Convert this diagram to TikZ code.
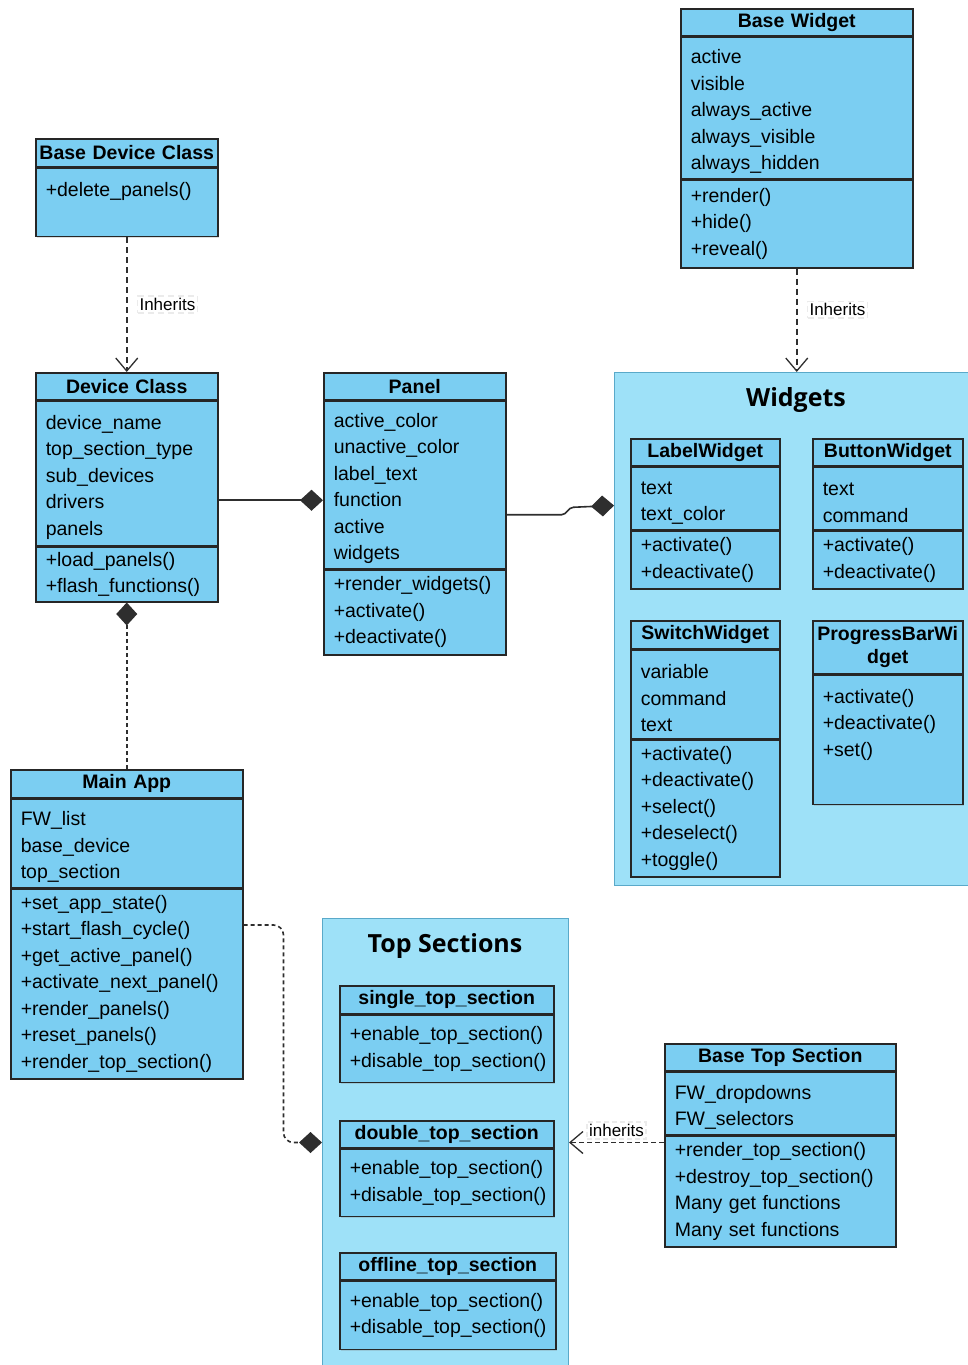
\documentclass[tikz,border=0pt]{standalone}
\usepackage{fontspec}
\setmainfont{Liberation Sans}
\newfontfamily\groupfont{Open Sans}
\usetikzlibrary{arrows.meta, positioning, shadows}

\definecolor{classblue}{HTML}{7BCEF2}
\definecolor{groupblue}{HTML}{9EE1F8}
\definecolor{groupline}{HTML}{5AA9C9}
\definecolor{linegray}{HTML}{2E2E2E}

\begin{document}
\begin{tikzpicture}[x=1pt, y=-1pt, node distance=0pt]
\useasboundingbox (0,0) rectangle (968,1365);

% Define styles
\tikzstyle{classhead} = [rectangle, draw=black!85, line width=1.5pt, fill=classblue, anchor=north west,
    inner sep=0pt, align=center, font=\fontsize{19.5}{23}\selectfont\bfseries,
    drop shadow={shadow xshift=1.5pt, shadow yshift=-1.5pt, opacity=0.25}]
\tikzstyle{classpart} = [rectangle, draw=black!85, line width=1.5pt, fill=classblue, inner xsep=10pt,
    inner ysep=0pt, align=left, font=\fontsize{19.5}{26.5}\selectfont,
    drop shadow={shadow xshift=1.5pt, shadow yshift=-1.5pt, opacity=0.25}]
\tikzstyle{classattr} = [classpart, execute at begin node={\rule{0pt}{22pt}}]
\tikzstyle{group} = [rectangle, draw=groupline, line width=1pt, fill=groupblue, anchor=north west, inner sep=0pt]
\tikzstyle{grouptitle} = [font=\groupfont\bfseries\fontsize{25}{30}\selectfont]
\tikzstyle{inherit} = [draw=linegray, line width=1.6pt, dash pattern=on 6pt off 4pt,
    -{Straight Barb[length=13pt, width=22pt, line width=1.3pt]}]
\tikzstyle{compose} = [draw=linegray, line width=1.6pt, -{Diamond[length=23pt, width=21pt]}]
\tikzstyle{edgelabel} = [fill=white, draw=black!8, inner sep=2pt, font=\fontsize{17}{20}\selectfont]

% Groups
\node [group, minimum width=364pt, minimum height=513pt] (widgets) at (614,372) {};
\node [grouptitle] (widgetstitle) at (796,400) {Widgets};
\node [group, minimum width=246pt, minimum height=448pt] (topsec) at (322,918) {};
\node [grouptitle] (toptitle) at (445,946) {Top Sections};

% Place nodes
\node [classhead, text width=182pt, minimum height=28pt] (basedev) at (35,138) {Base Device Class};
\node [classattr, text width=162pt, minimum height=68pt, below=of basedev] (basedevops) {+delete\_panels()\\ \strut};

\node [classhead, text width=182pt, minimum height=27pt] (dev) at (35,372) {Device Class};
\node [classattr, text width=162pt, minimum height=144pt, below=of dev] (devattr) {device\_name\\top\_section\_type\\sub\_devices\\drivers\\panels};
\node [classpart, text width=162pt, minimum height=55pt, below=of devattr] (devops) {+load\_panels()\\+flash\_functions()};

\node [classhead, text width=182pt, minimum height=27pt] (panel) at (323,372) {Panel};
\node [classattr, text width=162pt, minimum height=167pt, below=of panel] (panelattr) {active\_color\\unactive\_color\\label\_text\\function\\active\\widgets};
\node [classpart, text width=162pt, minimum height=85pt, below=of panelattr] (panelops) {+render\_widgets()\\+activate()\\+deactivate()};

\node [classhead, text width=232pt, minimum height=27pt] (basewid) at (680,8) {Base Widget};
\node [classattr, text width=212pt, minimum height=141pt, below=of basewid] (basewidattr) {active\\visible\\always\_active\\always\_visible\\always\_hidden};
\node [classpart, text width=212pt, minimum height=88pt, below=of basewidattr] (basewidops) {+render()\\+hide()\\+reveal()};

\node [classhead, text width=149pt, minimum height=27pt] (labelwid) at (630,438) {LabelWidget};
\node [classattr, text width=129pt, minimum height=62pt, below=of labelwid] (labelwidattr) {text\\text\_color};
\node [classpart, text width=129pt, minimum height=58pt, below=of labelwidattr] (labelwidops) {+activate()\\+deactivate()};

\node [classhead, text width=150pt, minimum height=27pt] (buttonwid) at (812,438) {ButtonWidget};
\node [classattr, text width=130pt, minimum height=62pt, below=of buttonwid] (buttonwidattr) {text\\command};
\node [classpart, text width=130pt, minimum height=58pt, below=of buttonwidattr] (buttonwidops) {+activate()\\+deactivate()};

\node [classhead, text width=149pt, minimum height=28pt] (switchwid) at (630,620) {SwitchWidget};
\node [classattr, text width=129pt, minimum height=88pt, below=of switchwid] (switchwidattr) {variable\\command\\text};
\node [classpart, text width=129pt, minimum height=137pt, below=of switchwidattr] (switchwidops) {+activate()\\+deactivate()\\+select()\\+deselect()\\+toggle()};

\node [classhead, text width=150pt, minimum height=53pt] (progresswid) at (812,620) {ProgressBarWi\\dget};
\node [classpart, text width=130pt, minimum height=129pt, below=of progresswid] (progresswidops) {+activate()\\+deactivate()\\+set()\\ \strut};

\node [classhead, text width=232pt, minimum height=28pt] (main) at (10,769) {Main App};
\node [classattr, text width=212pt, minimum height=88pt, below=of main] (mainattr) {FW\_list\\base\_device\\top\_section};
\node [classpart, text width=212pt, minimum height=190pt, below=of mainattr] (mainops) {+set\_app\_state()\\+start\_flash\_cycle()\\+get\_active\_panel()\\+activate\_next\_panel()\\+render\_panels()\\+reset\_panels()\\+render\_top\_section()};

\node [classhead, text width=214pt, minimum height=28pt] (single) at (339,985) {single\_top\_section};
\node [classpart, text width=194pt, minimum height=67pt, below=of single] (singleops) {+enable\_top\_section()\\+disable\_top\_section()};

\node [classhead, text width=214pt, minimum height=27pt] (double) at (339,1120) {double\_top\_section};
\node [classpart, text width=194pt, minimum height=67pt, below=of double] (doubleops) {+enable\_top\_section()\\+disable\_top\_section()};

\node [classhead, text width=216pt, minimum height=27pt] (offline) at (339,1252) {offline\_top\_section};
\node [classpart, text width=196pt, minimum height=68pt, below=of offline] (offlineops) {+enable\_top\_section()\\+disable\_top\_section()};

\node [classhead, text width=231pt, minimum height=27pt] (basetop) at (664,1043) {Base Top Section};
\node [classattr, text width=211pt, minimum height=62pt, below=of basetop] (basetopattr) {FW\_dropdowns\\FW\_selectors};
\node [classpart, text width=211pt, minimum height=111pt, below=of basetopattr] (basetopops) {+render\_top\_section()\\+destroy\_top\_section()\\Many get functions\\Many set functions};

% Draw edges
\path [inherit] (basedevops.south) -- node[edgelabel, right=10pt] {Inherits} (dev.north);
\path [inherit] (basewidops.south) -- node[pos=0.4, edgelabel, right=10pt] {Inherits} (basewidops.south |- widgets.north);
\path [compose] ([yshift=-27pt]devattr.east) -- ([yshift=-15.5pt]panelattr.west);
\path [compose] ([yshift=-30pt]panelattr.east) -- ++(55,0) to[out=0, in=180] ++(12,-7.5) -- ([yshift=123.5pt]widgets.west);
\path [compose, dash pattern=on 4pt off 3pt] (main.north) -- (devops.south);
\path [compose, dash pattern=on 4pt off 3pt, rounded corners=10pt] ([yshift=-37pt]mainops.north east) -- ++(40,0) |- (topsec.west);
\path [inherit, dash pattern=on 5pt off 3pt] (basetopops.west |- topsec.east) -- node[edgelabel, above=3pt] {inherits} (topsec.east);

\end{tikzpicture}
\end{document}
